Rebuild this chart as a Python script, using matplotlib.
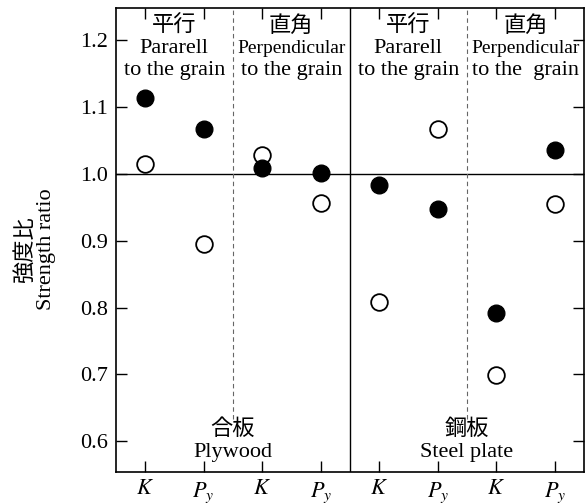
import matplotlib
matplotlib.use('Agg')
import matplotlib.pyplot as plt

plt.rcParams['font.family'] = ['Liberation Serif', 'DejaVu Serif']
plt.rcParams['mathtext.fontset'] = 'stix'

# data
tick_labels = ['$K$', '$P_y$', '$K$', '$P_y$', '$K$', '$P_y$', '$K$', '$P_y$']
filled = [1.114, 1.067, 1.009, 1.001, 0.984, 0.948, 0.792, 1.036]
hollow = [1.015, 0.895, 1.028, 0.957, 0.808, 1.067, 0.699, 0.955]
group_jp = ['平行', '直角', '平行', '直角']
group_en1 = ['Pararell', 'Perpendicular', 'Pararell', 'Perpendicular']
group_en2 = ['to the grain', 'to the grain', 'to the grain', 'to the  grain']
material_jp = ['合板', '鋼板']
material_en = ['Plywood', 'Steel plate']

cjk = ['Noto Sans CJK JP', 'DejaVu Sans']
x = list(range(len(tick_labels)))

fig = plt.figure(figsize=(5.88, 5.04), dpi=100)
ax = fig.add_axes([0.197, 0.0635, 0.796, 0.9205])

ax.plot(x, hollow, 'o', ms=12, mfc='white', mec='black', mew=1.3, zorder=3)
ax.plot(x, filled, 'o', ms=12, mfc='black', mec='black', zorder=4)

ax.axhline(1.0, color='black', lw=1.0)
ax.axvline(3.5, color='black', lw=1.0)
for xv in (1.5, 5.5):
    ax.plot([xv, xv], [0.634, 1.25], color='0.4', lw=0.8, ls=(0, (4, 3)))

ax.set_xlim(-0.5, 7.5)
ax.set_ylim(0.554, 1.248)
ax.set_xticks(x)
ax.set_xticklabels(tick_labels, fontsize=16)
ax.set_yticks([0.6, 0.7, 0.8, 0.9, 1.0, 1.1, 1.2])
ax.set_yticklabels(['0.6', '0.7', '0.8', '0.9', '1.0', '1.1', '1.2'], fontsize=16)
ax.tick_params(direction='in', length=8, width=1, top=True, right=True, pad=6)
for s in ax.spines.values():
    s.set_linewidth(1.2)

for i in range(4):
    cx = 2 * i + 0.5
    ax.text(cx, 1.222, group_jp[i], ha='center', va='center', fontsize=16, family=cjk)
    fs = 14 if group_en1[i] == 'Perpendicular' else 16
    ax.text(cx, 1.188, group_en1[i], ha='center', va='center', fontsize=fs)
    ax.text(cx, 1.155, group_en2[i], ha='center', va='center', fontsize=16)

for i in range(2):
    cx = 4 * i + 1.5
    ax.text(cx, 0.619, material_jp[i], ha='center', va='center', fontsize=16, family=cjk)
    ax.text(cx, 0.583, material_en[i], ha='center', va='center', fontsize=16)

fig.text(0.042, 0.505, '強度比', rotation=90, ha='center', va='center',
         fontsize=16, family=cjk)
fig.text(0.079, 0.505, 'Strength ratio', rotation=90, ha='center', va='center',
         fontsize=16)

fig.savefig('out.png', dpi=100)
